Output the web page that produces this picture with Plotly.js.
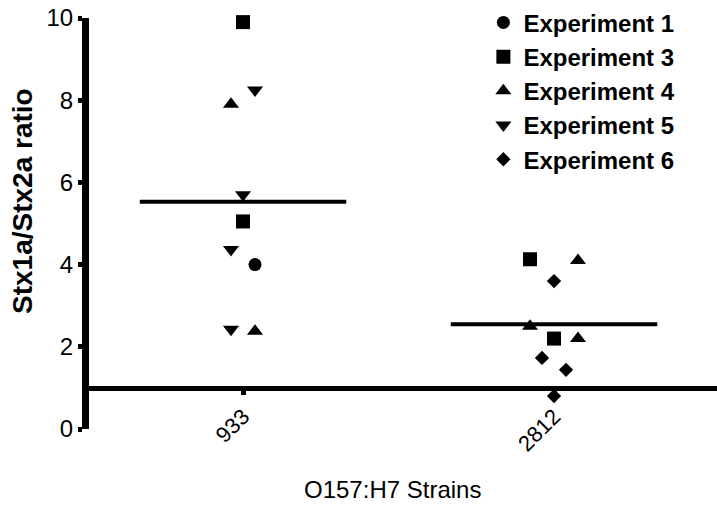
<!DOCTYPE html>
<html>
<head>
<meta charset="utf-8">
<script src="https://cdn.plot.ly/plotly-3.0.1.min.js"></script>
<style>
  html, body { margin: 0; padding: 0; background: #ffffff; }
  #chart { width: 717px; height: 506px; }
</style>
</head>
<body>
<div id="chart"></div>
<script>
(function () {
  "use strict";

  // strains on the x axis
  const STRAINS = ["933", "2812"];

  // one set of arrays per experiment: strain index, ratio, jitter slot
  const EXP1_STRAIN = [0];
  const EXP1_RATIO = [4.0];
  const EXP1_SLOT = [1];

  const EXP3_STRAIN = [0, 0, 1, 1];
  const EXP3_RATIO = [9.9, 5.05, 4.13, 2.2];
  const EXP3_SLOT = [0, 0, -2, 0];

  const EXP4_STRAIN = [0, 0, 1, 1, 1];
  const EXP4_RATIO = [7.9, 2.38, 4.1, 2.5, 2.2];
  const EXP4_SLOT = [-1, 1, 2, -2, 2];

  const EXP5_STRAIN = [0, 0, 0, 0];
  const EXP5_RATIO = [8.25, 5.7, 4.37, 2.43];
  const EXP5_SLOT = [1, 0, -1, -1];

  const EXP6_STRAIN = [1, 1, 1, 1];
  const EXP6_RATIO = [3.6, 1.73, 1.44, 0.8];
  const EXP6_SLOT = [0, -1, 1, 0];

  // mean line per strain
  const MEAN_RATIO = [5.53, 2.55];

  const FONT = "Liberation Sans, Arial, sans-serif";
  const INK = "#000000";
  const JITTER = 0.0386;
  const MEAN_HALF = 0.332;

  const SERIES = [
    { name: "Experiment 1", strain: EXP1_STRAIN, ratio: EXP1_RATIO, slot: EXP1_SLOT, symbol: "circle", size: 13 },
    { name: "Experiment 3", strain: EXP3_STRAIN, ratio: EXP3_RATIO, slot: EXP3_SLOT, symbol: "square", size: 14 },
    { name: "Experiment 4", strain: EXP4_STRAIN, ratio: EXP4_RATIO, slot: EXP4_SLOT, symbol: "triangle-up", size: 14 },
    { name: "Experiment 5", strain: EXP5_STRAIN, ratio: EXP5_RATIO, slot: EXP5_SLOT, symbol: "triangle-down", size: 14 },
    { name: "Experiment 6", strain: EXP6_STRAIN, ratio: EXP6_RATIO, slot: EXP6_SLOT, symbol: "diamond", size: 11 }
  ];

  function meanTraces() {
    return MEAN_RATIO.map((m, i) => ({
      type: "scatter",
      mode: "lines",
      x: [i - MEAN_HALF, i + MEAN_HALF],
      y: [m, m],
      line: { color: INK, width: 4 },
      showlegend: false,
      hoverinfo: "skip"
    }));
  }

  function pointTraces() {
    return SERIES.map((s) => ({
      type: "scatter",
      mode: "markers",
      name: s.name,
      x: s.strain.map((k, j) => k + s.slot[j] * JITTER),
      y: s.ratio,
      marker: { symbol: s.symbol, size: s.size, color: INK },
      cliponaxis: false,
      hovertemplate: "%{y:.2f}<extra>" + s.name + "</extra>"
    }));
  }

  const layout = {
    width: 717,
    height: 506,
    paper_bgcolor: "#ffffff",
    plot_bgcolor: "#ffffff",
    margin: { l: 89, r: 0, t: 15, b: 77 },
    showlegend: true,
    font: { family: FONT, color: INK },
    legend: {
      x: 0.628,
      xanchor: "left",
      y: 1.043,
      yanchor: "top",
      bgcolor: "rgba(0,0,0,0)",
      font: { family: FONT, size: 24, color: INK, weight: "bold" }
    },
    xaxis: {
      range: [-0.4952, 1.5241],
      anchor: "free",
      position: 0.1,
      tickmode: "array",
      tickvals: STRAINS.map((_, i) => i),
      ticktext: STRAINS,
      tickangle: -45,
      tickfont: { family: FONT, size: 22, color: INK },
      showline: true,
      linecolor: INK,
      linewidth: 5,
      ticks: "outside",
      ticklen: 4,
      tickwidth: 5,
      tickcolor: INK,
      showgrid: false,
      zeroline: false,
      fixedrange: true
    },
    yaxis: {
      range: [0, 10],
      tickmode: "array",
      tickvals: [0, 2, 4, 6, 8, 10],
      tickfont: { family: FONT, size: 24, color: INK },
      ticklabeloverflow: "allow",
      showline: true,
      linecolor: INK,
      linewidth: 7,
      ticks: "outside",
      ticklen: 4,
      tickwidth: 5,
      tickcolor: INK,
      showgrid: false,
      zeroline: false,
      fixedrange: true
    },
    annotations: [
      {
        text: "Stx1a/Stx2a ratio",
        xref: "paper",
        yref: "paper",
        x: -0.105,
        y: 0.555,
        xanchor: "center",
        yanchor: "middle",
        textangle: -90,
        showarrow: false,
        font: { family: FONT, size: 28, color: INK, weight: "bold" }
      },
      {
        text: "O157:H7 Strains",
        xref: "paper",
        yref: "paper",
        x: 0.4825,
        y: -0.146,
        xanchor: "center",
        yanchor: "middle",
        showarrow: false,
        font: { family: FONT, size: 24, color: INK }
      }
    ]
  };

  Plotly.newPlot("chart", meanTraces().concat(pointTraces()), layout, { displayModeBar: false });
})();
</script>
</body>
</html>
